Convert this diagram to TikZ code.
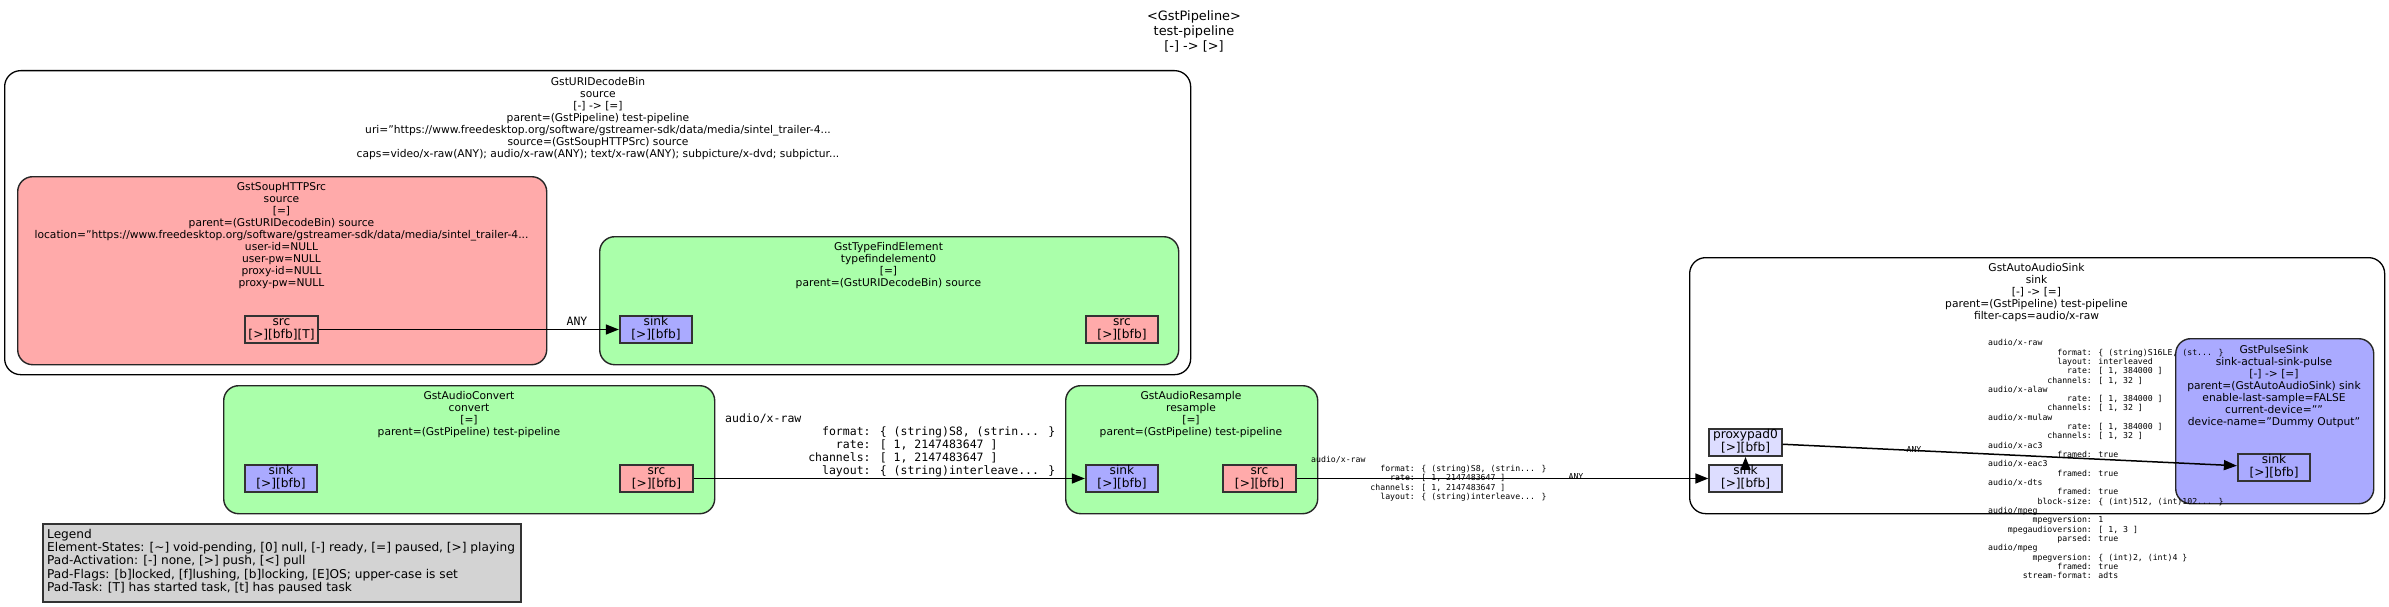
\documentclass[tikz,border=0pt]{standalone}
\usepackage{fontspec}
\setmainfont{DejaVu Sans}
\newfontfamily\gmono{DejaVu Sans Mono}
\usetikzlibrary{arrows.meta}
\definecolor{elgreen}{HTML}{AAFFAA}
\definecolor{elpink}{HTML}{FFAAAA}
\definecolor{elblue}{HTML}{AAAAFF}
\definecolor{ghostblue}{HTML}{DDDDFF}
\definecolor{leggray}{HTML}{D3D3D3}
\newcommand\ind[1]{\hspace*{#1\fontcharwd\font`0}}
\begin{document}
\begin{tikzpicture}[x=1pt,y=-1pt,
  binbox/.style={draw=black, line width=1.3pt, fill=white, rounded corners=16pt, inner sep=0pt, anchor=north west},
  elembox/.style={draw=black!85, line width=1.4pt, rounded corners=15pt, inner sep=0pt, anchor=north west},
  padbox/.style={draw=black!80, line width=1.8pt, inner sep=0pt, minimum width=72.5pt, minimum height=27pt, font=\fontsize{12.2}{13.3}\selectfont, align=center},
  elabel/.style={font=\fontsize{10.7}{12}\selectfont, align=center, inner sep=0pt, anchor=north},
  capsbig/.style={font=\gmono\fontsize{11.5}{13}\selectfont, align=left, inner sep=0pt, anchor=north west},
  capssmall/.style={font=\gmono\fontsize{8.2}{9.32}\selectfont, align=left, inner sep=0pt, anchor=north west},
  anybig/.style={font=\gmono\fontsize{11.5}{13}\selectfont, inner sep=0pt, anchor=base},
  anysmall/.style={font=\gmono\fontsize{8.2}{9.32}\selectfont, inner sep=0pt, anchor=base},
  edgeline/.style={draw=black, line width=1.5pt, -{Triangle[length=13pt,width=10pt]}}
]
\fill[white] (0,0) rectangle (2389,607);
\useasboundingbox (0,0) rectangle (2389,607);

% title
\node[font=\fontsize{12.9}{15}\selectfont, align=center, inner sep=0pt, anchor=north] (title) at (1194,10)
  {\strut<GstPipeline>\\\strut test-pipeline\\\strut[-] -> [>]};

% GstURIDecodeBin cluster
\node[binbox, minimum width=1186pt, minimum height=304pt] (uridec) at (4,70) {};
\node[elabel] (uridecl) at (598,76.6) {\strut GstURIDecodeBin\\\strut source\\\strut[-] -> [=]\\\strut parent=(GstPipeline) test-pipeline\\\strut uri="https://www.freedesktop.org/software/gstreamer-sdk/data/media/sintel\_trailer-4...\\\strut source=(GstSoupHTTPSrc) source\\\strut caps=video/x-raw(ANY); audio/x-raw(ANY); text/x-raw(ANY); subpicture/x-dvd; subpictur...};

% GstSoupHTTPSrc
\node[elembox, fill=elpink, minimum width=529pt, minimum height=188pt] (httpsrc) at (17,176) {};
\node[elabel] (httpsrcl) at (281.5,181.6) {\strut GstSoupHTTPSrc\\\strut source\\\strut[=]\\\strut parent=(GstURIDecodeBin) source\\\strut location="https://www.freedesktop.org/software/gstreamer-sdk/data/media/sintel\_trailer-4...\\\strut user-id=NULL\\\strut user-pw=NULL\\\strut proxy-id=NULL\\\strut proxy-pw=NULL};

% GstTypeFindElement
\node[elembox, fill=elgreen, minimum width=579pt, minimum height=128pt] (typefind) at (599,236) {};
\node[elabel] (typefindl) at (888.5,241.6) {\strut GstTypeFindElement\\\strut typefindelement0\\\strut[=]\\\strut parent=(GstURIDecodeBin) source};

% GstAudioConvert
\node[elembox, fill=elgreen, minimum width=491pt, minimum height=128pt] (convert) at (223,385) {};
\node[elabel] (convertl) at (469,390.6) {\strut GstAudioConvert\\\strut convert\\\strut[=]\\\strut parent=(GstPipeline) test-pipeline};

% GstAudioResample
\node[elembox, fill=elgreen, minimum width=252pt, minimum height=128pt] (resample) at (1065,385) {};
\node[elabel] (resamplel) at (1191,390.6) {\strut GstAudioResample\\\strut resample\\\strut[=]\\\strut parent=(GstPipeline) test-pipeline};

% GstAutoAudioSink cluster
\node[binbox, minimum width=695pt, minimum height=256pt] (autosink) at (1689,257) {};
\node[elabel] (autosinkl) at (2036.5,262.6) {\strut GstAutoAudioSink\\\strut sink\\\strut[-] -> [=]\\\strut parent=(GstPipeline) test-pipeline\\\strut filter-caps=audio/x-raw};

% GstPulseSink
\node[elembox, fill=elblue, minimum width=198pt, minimum height=165pt] (pulse) at (2175,338) {};
\node[elabel] (pulsel) at (2274,344.6) {\strut GstPulseSink\\\strut sink-actual-sink-pulse\\\strut[-] -> [=]\\\strut parent=(GstAutoAudioSink) sink\\\strut enable-last-sample=FALSE\\\strut current-device=""\\\strut device-name="Dummy Output"};

% Legend
\node[draw=black!80, line width=1.5pt, fill=leggray, inner sep=0pt, anchor=north west, minimum width=478pt, minimum height=78pt] (legend) at (42,523) {};
\node[font=\fontsize{12.15}{13.3}\selectfont, align=left, inner sep=0pt, anchor=north west] (legendl) at (47,528.7)
  {\strut Legend\\\strut Element-States: [\textasciitilde] void-pending, [0] null, [-] ready, [=] paused, [>] playing\\\strut Pad-Activation: [-] none, [>] push, [<] pull\\\strut Pad-Flags: [b]locked, [f]lushing, [b]locking, [E]OS; upper-case is set\\\strut Pad-Task: [T] has started task, [t] has paused task};

% pads
\node[padbox, fill=elpink] (hs_src) at (281.5,329.5) {\strut src\\\strut[>][bfb][T]};
\node[padbox, fill=elblue] (tf_sink) at (656,329.5) {\strut sink\\\strut[>][bfb]};
\node[padbox, fill=elpink] (tf_src) at (1122,329.5) {\strut src\\\strut[>][bfb]};
\node[padbox, fill=elblue] (cv_sink) at (281,478.5) {\strut sink\\\strut[>][bfb]};
\node[padbox, fill=elpink] (cv_src) at (656.5,478.5) {\strut src\\\strut[>][bfb]};
\node[padbox, fill=elblue] (rs_sink) at (1122,478.5) {\strut sink\\\strut[>][bfb]};
\node[padbox, fill=elpink] (rs_src) at (1259.5,478.5) {\strut src\\\strut[>][bfb]};
\node[padbox, fill=ghostblue] (as_proxy) at (1745.5,442.5) {\strut proxypad0\\\strut[>][bfb]};
\node[padbox, fill=ghostblue] (as_sink) at (1745.5,478.5) {\strut sink\\\strut[>][bfb]};
\node[padbox, fill=elblue] (ps_sink) at (2274,467.5) {\strut sink\\\strut[>][bfb]};

% edges
\draw[edgeline] (hs_src) -- (tf_sink);
\draw[edgeline] (cv_src) -- (rs_sink);
\draw[edgeline] (rs_src) -- (as_sink);
\draw[edgeline] ([yshift=-5pt]as_sink.north) -- (as_proxy.south);
\draw[edgeline] (as_proxy) -- (ps_sink);

% edge labels
\node[anybig] (any1) at (577,325.7) {ANY};
\node[capsbig] (caps1) at (725,412.9) {\strut audio/x-raw\\
\strut\ind{14}format: \{ (string)S8, (strin... \}\\
\strut\ind{16}rate: [ 1, 2147483647 ]\\
\strut\ind{12}channels: [ 1, 2147483647 ]\\
\strut\ind{14}layout: \{ (string)interleave... \}};
\node[capssmall] (caps2) at (1311,455.5) {\strut audio/x-raw\\
\strut\ind{14}format: \{ (string)S8, (strin... \}\\
\strut\ind{16}rate: [ 1, 2147483647 ]\\
\strut\ind{12}channels: [ 1, 2147483647 ]\\
\strut\ind{14}layout: \{ (string)interleave... \}};
\node[anysmall] (any2) at (1576,479.5) {ANY};
\node[anysmall] (any3) at (1914,452.5) {ANY};
\node[capssmall] (caps3) at (1988,339) {\strut audio/x-raw\\
\strut\ind{14}format: \{ (string)S16LE, (st... \}\\
\strut\ind{14}layout: interleaved\\
\strut\ind{16}rate: [ 1, 384000 ]\\
\strut\ind{12}channels: [ 1, 32 ]\\
\strut audio/x-alaw\\
\strut\ind{16}rate: [ 1, 384000 ]\\
\strut\ind{12}channels: [ 1, 32 ]\\
\strut audio/x-mulaw\\
\strut\ind{16}rate: [ 1, 384000 ]\\
\strut\ind{12}channels: [ 1, 32 ]\\
\strut audio/x-ac3\\
\strut\ind{14}framed: true\\
\strut audio/x-eac3\\
\strut\ind{14}framed: true\\
\strut audio/x-dts\\
\strut\ind{14}framed: true\\
\strut\ind{10}block-size: \{ (int)512, (int)102... \}\\
\strut audio/mpeg\\
\strut\ind{9}mpegversion: 1\\
\strut\ind{4}mpegaudioversion: [ 1, 3 ]\\
\strut\ind{14}parsed: true\\
\strut audio/mpeg\\
\strut\ind{9}mpegversion: \{ (int)2, (int)4 \}\\
\strut\ind{14}framed: true\\
\strut\ind{7}stream-format: adts};
\end{tikzpicture}
\end{document}
